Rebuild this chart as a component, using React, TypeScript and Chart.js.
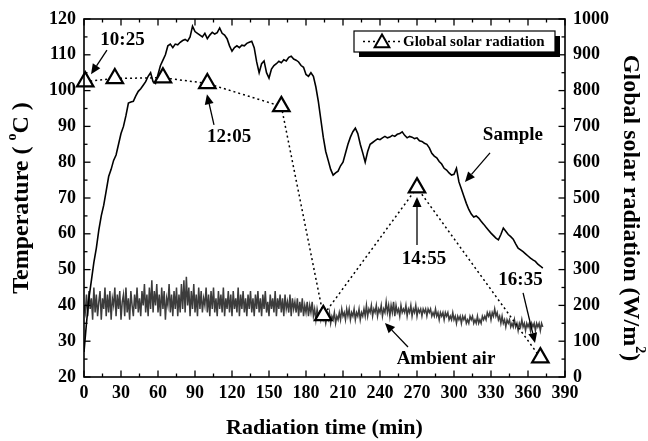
import React, { useEffect, useRef } from 'react';
import { Chart, registerables } from 'chart.js';

Chart.register(...registerables);

const FONT = "'Liberation Serif', 'Times New Roman', serif";

// ---- axes ----
const X_MIN = 0, X_MAX = 390, X_STEP = 30;
const T_MIN = 20, T_MAX = 120, T_STEP = 10;
const R_MIN = 0, R_MAX = 1000, R_STEP = 100;

// ---- Global solar radiation (right axis, W/m2) ----
const solarTime = [1, 25, 64, 100, 160, 194, 270, 370];
const solarValue = [825, 834, 836, 820, 756, 172, 529, 54];

// ---- Sample temperature, every 2 min from 0 ----
const SAMPLE_STEP = 2;
const sampleTemp = [
  27, 35, 42, 47, 52, 56, 61, 65, 68, 72,
  76, 78, 80.5, 82, 85, 88, 90, 93, 96.5, 96.8,
  97, 98.5, 99.8, 100.5, 101.5, 102.5, 104, 105, 102.5, 102,
  104.5, 107, 108.5, 110, 112.5, 113, 112, 113, 112.8, 113.5,
  114, 114.3, 113.8, 115, 118, 116.5, 116, 115.5, 115, 116,
  114.5, 115.5, 116.3, 115.8, 116.2, 117.5, 116, 115.5, 114.5, 112.5,
  111, 112, 112.5, 112, 112.7, 112.5, 113.2, 113.5, 113.8, 112,
  108, 105, 107.5, 108.3, 105, 103.5, 106, 107, 107.5, 108.2,
  107.8, 108.6, 108.3, 109.3, 109.6, 108.8, 108.5, 108, 107, 106.5,
  104.5, 104, 105, 104, 101, 97, 92, 87, 83, 80.5,
  78, 76.4, 77, 77.5, 79, 80, 82.5, 85, 87, 88.5,
  89.5, 88, 85, 82.6, 80, 83, 85, 85.5, 86, 86.5,
  86.3, 86.8, 87.2, 86.8, 87, 87.5, 87.2, 87.8, 88, 88.5,
  87.5, 86.8, 87.2, 87, 86.6, 86.8, 86, 85.8, 85.3, 85,
  84, 82.5, 81.7, 81.2, 80.2, 79.5, 78.3, 77.8, 77, 76.4,
  76.6, 78.3, 74.5, 72.5, 70.5, 68.5, 66.8, 65.5, 64.7, 65,
  64.4, 63.5, 62.7, 61.8, 61, 60.2, 59.5, 58.8, 58.3, 59.8,
  61.6, 60.7, 59.8, 59.2, 58.5, 57.2, 56, 55.5, 55, 54.4,
  53.8, 53.2, 52.7, 52.3, 51.5, 51, 50.4,
];

// ---- Ambient air temperature, every 1 min from 0 ----
const AMBIENT_STEP = 1;
const ambientTemp = [
  40, 38, 43, 37, 44, 39, 42, 36, 45, 38, 43, 37, 41, 44, 36, 42, 39, 45, 37, 43,
  38, 44, 36, 42, 40, 45, 37, 43, 39, 44, 36, 41, 43, 37, 45, 38, 42, 36, 44, 40,
  37, 43, 39, 45, 38, 42, 37, 44, 40, 46, 38, 43, 37, 45, 39, 47, 38, 44, 40, 46,
  38, 43, 37, 45, 39, 44, 36, 42, 40, 46, 38, 43, 37, 44, 39, 45, 37, 43, 38, 46,
  39, 47, 38, 48, 40, 45, 37, 44, 39, 46, 38, 43, 37, 45, 39, 44, 38, 42, 40, 45,
  38, 43, 37, 44, 39, 45, 38, 42, 37, 44, 39, 43, 38, 45, 37, 42, 39, 44, 38, 43,
  37, 44, 39, 42, 38, 45, 37, 43, 39, 44, 38, 42, 37, 43, 39, 44, 38, 42, 37, 43,
  39, 44, 38, 42, 37, 43, 39, 44, 38, 41, 37, 43, 39, 42, 38, 44, 37, 42, 39, 43,
  38, 42, 37, 43, 39, 41, 38, 43, 37, 42, 39, 41, 38, 42, 37, 41, 38, 42, 37, 40,
  38, 41, 37, 40, 38, 41, 37, 39, 36, 39, 37, 38, 36, 38, 36, 37, 35, 37, 36, 38,
  35, 37, 36, 38, 35, 37, 36, 38, 36, 39, 37, 38, 36, 39, 37, 39, 36, 38, 37, 39,
  36, 38, 37, 39, 36, 38, 37, 39, 37, 40, 37, 39, 38, 40, 37, 39, 38, 40, 37, 39,
  38, 40, 37, 39, 38, 41, 38, 40, 37, 40, 38, 41, 37, 40, 38, 39, 37, 40, 38, 39,
  38, 40, 37, 39, 38, 40, 37, 39, 38, 40, 37, 39, 38, 39, 37, 39, 38, 39, 37, 39,
  38, 39, 37, 38, 37, 39, 37, 38, 36, 38, 37, 38, 36, 38, 37, 38, 36, 37, 36, 38,
  36, 37, 35, 37, 36, 37, 35, 37, 36, 37, 35, 36, 35, 37, 36, 37, 35, 36, 35, 37,
  35, 36, 35, 37, 36, 37, 36, 38, 37, 38, 36, 38, 37, 39, 37, 38, 36, 37, 35, 37,
  35, 36, 34, 36, 35, 36, 34, 35, 34, 36, 34, 35, 33, 35, 34, 36, 34, 35, 33, 35,
  34, 35, 33, 35, 34, 35, 33, 35, 34, 35, 33, 35, 34,
];

// ---- text labels ----
const xTitle = 'Radiation time (min)';
const leftTitleParts = ['Temperature ( ', 'o', 'C )'];
const rightTitleParts = ['Global solar radiation (W/m', '2', ')'];
const legendLabel = 'Global solar radiation';

// annotations in data coordinates (x: min, y: temperature axis)
const annotations = [
  { text: '10:25', tx: 31.2, ty: 114, x0: 18.6, y0: 111.3, x1: 5.7, y1: 104.6 },
  { text: '12:05', tx: 117.6, ty: 87, x0: 105.4, y0: 90.4, x1: 99.7, y1: 99 },
  { text: '14:55', tx: 275.7, ty: 53, x0: 270, y0: 56.9, x1: 270, y1: 70.3 },
  { text: '16:35', tx: 353.9, ty: 47, x0: 356, y0: 43.5, x1: 365.7, y1: 29.5 },
  { text: 'Sample', tx: 347.8, ty: 87.6, x0: 329.2, y0: 82.6, x1: 308.9, y1: 74.5 },
  { text: 'Ambient air', tx: 293.5, ty: 25, x0: 262.7, y0: 28.4, x1: 244, y1: 35.1 },
];

function drawArrow(ctx: CanvasRenderingContext2D, x0: number, y0: number, x1: number, y1: number) {
  const ang = Math.atan2(y1 - y0, x1 - x0);
  const L = 10, W = 4.5;
  const bx = x1 - Math.cos(ang) * L, by = y1 - Math.sin(ang) * L;
  ctx.beginPath();
  ctx.moveTo(x0, y0);
  ctx.lineTo(bx, by);
  ctx.stroke();
  ctx.beginPath();
  ctx.moveTo(x1, y1);
  ctx.lineTo(bx + Math.sin(ang) * W, by - Math.cos(ang) * W);
  ctx.lineTo(bx - Math.sin(ang) * W, by + Math.cos(ang) * W);
  ctx.closePath();
  ctx.fill();
}

function drawParts(ctx: CanvasRenderingContext2D, parts: string[], size: number) {
  const main = `bold ${size}px ${FONT}`;
  const sup = `bold ${Math.round(size * 0.6)}px ${FONT}`;
  const widths = parts.map((p, i) => {
    ctx.font = i === 1 ? sup : main;
    return ctx.measureText(p).width;
  });
  const total = widths.reduce((a, b) => a + b, 0);
  let x = -total / 2;
  parts.forEach((p, i) => {
    ctx.font = i === 1 ? sup : main;
    ctx.fillText(p, x, i === 1 ? -size * 0.38 : 0);
    x += widths[i];
  });
}

const decorPlugin = {
  id: 'decor',
  afterDraw(chart: any) {
    const { ctx, chartArea: a, scales } = chart;
    const xs = scales.x, ys = scales.y, ys2 = scales.y2;
    ctx.save();
    ctx.strokeStyle = '#000';
    ctx.fillStyle = '#000';
    ctx.lineWidth = 1.6;
    ctx.strokeRect(a.left, a.top, a.right - a.left, a.bottom - a.top);

    const seg = (x0: number, y0: number, x1: number, y1: number) => {
      ctx.beginPath(); ctx.moveTo(x0, y0); ctx.lineTo(x1, y1); ctx.stroke();
    };
    ctx.lineWidth = 1.3;
    for (let v = X_MIN; v <= X_MAX; v += X_STEP / 2) {
      const px = xs.getPixelForValue(v);
      const len = (v - X_MIN) % X_STEP === 0 ? 6.5 : 3.5;
      seg(px, a.bottom, px, a.bottom - len);
      seg(px, a.top, px, a.top + len);
    }
    for (let v = T_MIN; v <= T_MAX; v += T_STEP / 2) {
      const py = ys.getPixelForValue(v);
      const len = (v - T_MIN) % T_STEP === 0 ? 6.5 : 3.5;
      seg(a.left, py, a.left + len, py);
    }
    for (let v = R_MIN; v <= R_MAX; v += R_STEP / 2) {
      const py = ys2.getPixelForValue(v);
      const len = (v - R_MIN) % R_STEP === 0 ? 6.5 : 3.5;
      seg(a.right, py, a.right - len, py);
    }

    // annotations
    ctx.font = `bold 19px ${FONT}`;
    ctx.textAlign = 'center';
    ctx.textBaseline = 'middle';
    ctx.lineWidth = 1.3;
    annotations.forEach((an) => {
      ctx.fillText(an.text, xs.getPixelForValue(an.tx), ys.getPixelForValue(an.ty));
      drawArrow(ctx,
        xs.getPixelForValue(an.x0), ys.getPixelForValue(an.y0),
        xs.getPixelForValue(an.x1), ys.getPixelForValue(an.y1));
    });

    // legend box
    const bw = 201, bh = 21;
    const bl = a.right - 211, bt = a.top + 12;
    ctx.fillStyle = '#000';
    ctx.fillRect(bl + 5, bt + 5, bw, bh);
    ctx.fillStyle = '#fff';
    ctx.fillRect(bl, bt, bw, bh);
    ctx.lineWidth = 1.2;
    ctx.strokeStyle = '#000';
    ctx.strokeRect(bl, bt, bw, bh);
    const cy = bt + bh / 2;
    ctx.setLineDash([2, 3]);
    ctx.lineWidth = 1.5;
    seg(bl + 9, cy, bl + 46, cy);
    ctx.setLineDash([]);
    const tr = 8.5;
    const tcx = bl + 28, tcy = cy + 1.5;
    ctx.beginPath();
    ctx.moveTo(tcx, tcy - tr);
    ctx.lineTo(tcx + tr * 0.866, tcy + tr / 2);
    ctx.lineTo(tcx - tr * 0.866, tcy + tr / 2);
    ctx.closePath();
    ctx.fillStyle = '#fff';
    ctx.fill();
    ctx.lineWidth = 2;
    ctx.stroke();
    ctx.fillStyle = '#000';
    ctx.font = `bold 15px ${FONT}`;
    ctx.textAlign = 'left';
    ctx.fillText(legendLabel, bl + 49, cy + 1);

    // axis titles
    ctx.textAlign = 'left';
    ctx.textBaseline = 'middle';
    ctx.font = `bold 22px ${FONT}`;
    const xw = ctx.measureText(xTitle).width;
    ctx.fillText(xTitle, (a.left + a.right) / 2 - xw / 2, 428);

    ctx.save();
    ctx.translate(22, (a.top + a.bottom) / 2);
    ctx.rotate(-Math.PI / 2);
    drawParts(ctx, leftTitleParts, 24);
    ctx.restore();

    ctx.save();
    ctx.translate(630, (a.top + a.bottom) / 2 + 10);
    ctx.rotate(Math.PI / 2);
    drawParts(ctx, rightTitleParts, 24);
    ctx.restore();

    ctx.restore();
  },
};

export default function App() {
  const ref = useRef<HTMLCanvasElement | null>(null);
  useEffect(() => {
    if (!ref.current) return;
    const tickFont = { family: FONT, weight: 'bold' as const, size: 18 };
    const plain = (v: any) => String(v);
    const chart = new Chart(ref.current, {
      type: 'line',
      data: {
        datasets: [
          {
            label: legendLabel,
            data: solarTime.map((t, i) => ({ x: t, y: solarValue[i] })),
            yAxisID: 'y2',
            borderColor: '#000',
            borderWidth: 1.5,
            borderDash: [2, 3],
            pointStyle: 'triangle',
            pointRadius: 9.5,
            pointBorderWidth: 2.2,
            pointBackgroundColor: '#fff',
            pointBorderColor: '#000',
            clip: false,
          },
          {
            label: 'Sample',
            data: sampleTemp.map((v, i) => ({ x: i * SAMPLE_STEP, y: v })),
            yAxisID: 'y',
            borderColor: '#000',
            borderWidth: 1.6,
            pointRadius: 0,
          },
          {
            label: 'Ambient air',
            data: ambientTemp.map((v, i) => ({ x: i * AMBIENT_STEP, y: v })),
            yAxisID: 'y',
            borderColor: '#3c3c3c',
            borderWidth: 1.5,
            pointRadius: 0,
          },
        ],
      },
      options: {
        responsive: false,
        animation: false,
        devicePixelRatio: 1,
        layout: { padding: { top: 19, left: 0, right: 0, bottom: 0 } },
        plugins: { legend: { display: false }, tooltip: { enabled: false } },
        scales: {
          x: {
            type: 'linear',
            min: X_MIN, max: X_MAX,
            grid: { display: false, drawTicks: false },
            border: { display: false },
            ticks: { stepSize: X_STEP, color: '#000', font: tickFont, padding: 6, maxRotation: 0, autoSkip: false, callback: plain },
            afterFit: (s: any) => { s.height = 64; },
          },
          y: {
            type: 'linear',
            position: 'left',
            min: T_MIN, max: T_MAX,
            grid: { display: false, drawTicks: false },
            border: { display: false },
            ticks: { stepSize: T_STEP, color: '#000', font: tickFont, padding: 8, callback: plain },
            afterFit: (s: any) => { s.width = 84; },
          },
          y2: {
            type: 'linear',
            position: 'right',
            min: R_MIN, max: R_MAX,
            grid: { display: false, drawTicks: false },
            border: { display: false },
            ticks: { stepSize: R_STEP, color: '#000', font: tickFont, padding: 8, callback: plain },
            afterFit: (s: any) => { s.width = 83; },
          },
        },
      },
      plugins: [decorPlugin],
    });
    return () => chart.destroy();
  }, []);
  return (
    <div style={{ position: 'fixed', left: 0, top: 0, width: 648, height: 441, background: '#fff' }}>
      <canvas ref={ref} width={648} height={441} style={{ width: 648, height: 441 }} />
    </div>
  );
}
